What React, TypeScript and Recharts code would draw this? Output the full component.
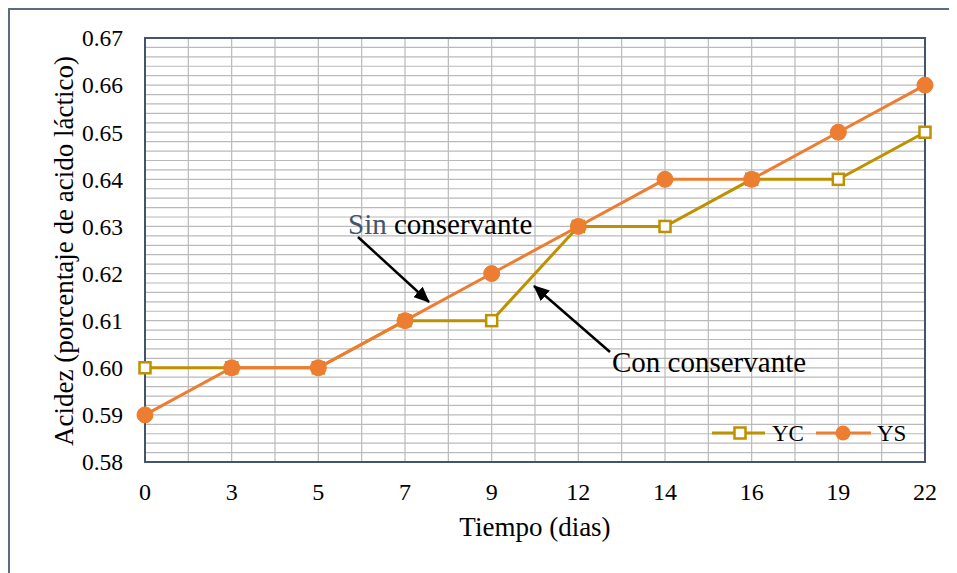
import { CartesianGrid, Line, LineChart, ReferenceArea, XAxis, YAxis } from "recharts";

const dias = ["0", "3", "5", "7", "9", "12", "14", "16", "19", "22"];
const yc = [0.6, 0.6, 0.6, 0.61, 0.61, 0.63, 0.63, 0.64, 0.64, 0.65];
const ys = [0.59, 0.6, 0.6, 0.61, 0.62, 0.63, 0.64, 0.64, 0.65, 0.66];
const yTicks = [0.58, 0.59, 0.6, 0.61, 0.62, 0.63, 0.64, 0.65, 0.66, 0.67];

const data = dias.map((d, i) => ({ dia: d, YC: yc[i], YS: ys[i] }));

// minor grid: lines at half category steps and every 0.002 on y
const X_DIVS = 18;
const Y_DIVS = 45;

const GOLD = "#bf9000";
const ORANGE = "#ed7d31";
const SLATE = "#44546a";
const FONT = "'Liberation Serif', 'Times New Roman', serif";

function SquareDot(props: any) {
  const { cx, cy, index } = props;
  if (cx == null || cy == null) return null;
  return <rect key={index} x={cx - 5.5} y={cy - 5.5} width={11} height={11} fill="#fff" stroke={GOLD} strokeWidth={2.5} />;
}

function LegendBox() {
  return (
    <svg width={200} height={30} style={{ position: "absolute", left: 704, top: 410 }}>
      <line x1={0} y1={15} x2={53} y2={15} stroke={GOLD} strokeWidth={3} />
      <rect x={22.5} y={9.5} width={11} height={11} fill="#fff" stroke={GOLD} strokeWidth={2.5} />
      <text x={60} y={23} fontSize={23} fontFamily={FONT} fill="#000">YC</text>
      <line x1={104} y1={15} x2={159} y2={15} stroke={ORANGE} strokeWidth={3} />
      <circle cx={131} cy={15} r={7.5} fill={ORANGE} />
      <text x={165} y={23} fontSize={23} fontFamily={FONT} fill="#000">YS</text>
    </svg>
  );
}

function YLabel(props: any) {
  const vb = props.viewBox || {};
  const cy = vb.y + vb.height / 2 + 1;
  return (
    <text x={65} y={cy} transform={`rotate(-90, 65, ${cy})`} textAnchor="middle" fontSize={27} fontFamily={FONT} fill="#000">
      Acidez (porcentaje de acido láctico)
    </text>
  );
}

export default function App() {
  return (
    <div style={{ position: "relative", width: 949, height: 565, fontFamily: FONT }}>
      <div
        style={{
          position: "absolute",
          left: 0,
          top: 0,
          right: 0,
          bottom: 0,
          borderTop: "2px solid #5d6b80",
          borderLeft: "2px solid #5d6b80",
        }}
      />
      <LineChart
        width={949}
        height={565}
        data={data}
        margin={{ top: 30, right: 32, bottom: 0, left: 0 }}
        style={{ position: "absolute", left: 0, top: 0, fontFamily: FONT }}
      >
        <CartesianGrid
          stroke="#bababa"
          strokeWidth={1.2}
          verticalCoordinatesGenerator={({ offset }: any) =>
            Array.from({ length: X_DIVS + 1 }, (_, i) => offset.left + (i * offset.width) / X_DIVS)
          }
          horizontalCoordinatesGenerator={({ offset }: any) =>
            Array.from({ length: Y_DIVS + 1 }, (_, i) => offset.top + (i * offset.height) / Y_DIVS)
          }
        />
        <XAxis
          dataKey="dia"
          height={111}
          tickLine={false}
          axisLine={false}
          tickSize={0}
          tickMargin={21}
          tick={{ fontSize: 24, fontFamily: FONT, fill: "#000" }}
          label={{
            value: "Tiempo (dias)",
            position: "insideTop",
            offset: 55,
            fontSize: 27,
            fontFamily: FONT,
            fill: "#000",
          }}
        />
        <YAxis
          width={137}
          domain={[0.58, 0.67]}
          ticks={yTicks}
          tickFormatter={(v: number) => v.toFixed(2)}
          tickLine={false}
          axisLine={false}
          tickSize={0}
          tickMargin={22}
          tick={{ fontSize: 23.5, fontFamily: FONT, fill: "#000" }}
          label={<YLabel />}
        />
        <ReferenceArea
          x1="0"
          x2="22"
          y1={0.58}
          y2={0.67}
          fill="none"
          fillOpacity={0}
          stroke={SLATE}
          strokeWidth={2}
          ifOverflow="visible"
        />
        <Line
          dataKey="YC"
          stroke={GOLD}
          strokeWidth={3}
          dot={<SquareDot />}
          activeDot={false}
          isAnimationActive={false}
        />
        <Line
          dataKey="YS"
          stroke={ORANGE}
          strokeWidth={3}
          dot={{ r: 8, fill: ORANGE, stroke: ORANGE, strokeWidth: 1 }}
          activeDot={false}
          isAnimationActive={false}
        />
      </LineChart>
      <LegendBox />
      <svg width={949} height={565} style={{ position: "absolute", left: 0, top: 0, pointerEvents: "none" }}>
        <defs>
          <marker id="ah2" viewBox="0 0 16 14" markerWidth={16} markerHeight={14} refX={15} refY={7} orient="auto" markerUnits="userSpaceOnUse">
            <path d="M0,0 L16,7 L0,14 z" fill="#000" />
          </marker>
        </defs>
        <text x={340} y={226} fontSize={29} fontFamily={FONT} fill="#000">
          <tspan fill={SLATE}>Sin</tspan> conservante
        </text>
        <line x1={350} y1={229} x2={421} y2={294} stroke="#000" strokeWidth={2.5} markerEnd="url(#ah2)" />
        <text x={604} y={364} fontSize={29} fontFamily={FONT} fill="#000">
          Con conservante
        </text>
        <line x1={602} y1={344} x2={526} y2={278} stroke="#000" strokeWidth={2.5} markerEnd="url(#ah2)" />
      </svg>
    </div>
  );
}
